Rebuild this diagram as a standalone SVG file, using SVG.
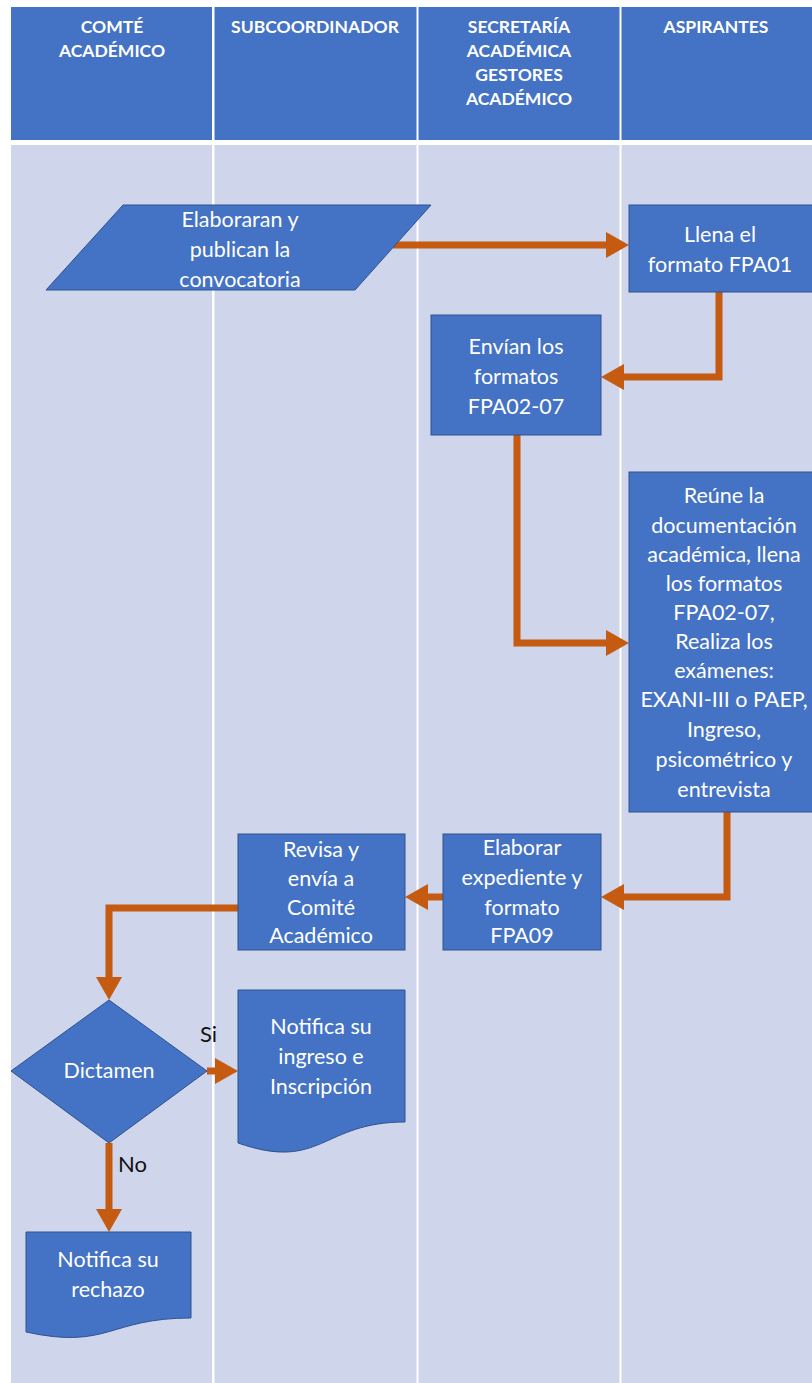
<svg xmlns="http://www.w3.org/2000/svg" width="812" height="1383" viewBox="0 0 812 1383">
<style>
.hdr{fill:#4472C4}
.lane{fill:#CFD5EA}
.node{fill:#4472C4;stroke:#2F528F;stroke-width:1}
.ht{font-family:Lato,"Liberation Sans",sans-serif;font-weight:bold;font-size:17.5px;fill:#fff;text-anchor:middle}
.t{font-family:Lato,"Liberation Sans",sans-serif;font-size:21.5px;fill:#fff;text-anchor:middle}
.lbl{font-family:Lato,"Liberation Sans",sans-serif;font-size:22px;fill:#111;}
.c{fill:none;stroke:#C55A11;stroke-width:7}
</style>
<defs>
<marker id="ah" markerUnits="userSpaceOnUse" markerWidth="24" markerHeight="26" refX="0" refY="13" orient="auto">
<path d="M0,0 L23,13 L0,26 Z" fill="#C55A11"/>
</marker>
</defs>
<rect width="812" height="1383" fill="#fff"/>
<g id="lanes">
<rect class="hdr" x="11" y="7" width="201" height="133"/>
<rect class="hdr" x="214.5" y="7" width="202" height="133"/>
<rect class="hdr" x="418.5" y="7" width="201" height="133"/>
<rect class="hdr" x="621.5" y="7" width="190.5" height="133"/>
<rect class="lane" x="11" y="145" width="201" height="1238"/>
<rect class="lane" x="214.5" y="145" width="202" height="1238"/>
<rect class="lane" x="418.5" y="145" width="201" height="1238"/>
<rect class="lane" x="621.5" y="145" width="190.5" height="1238"/>
<text class="ht" x="112" y="33">COMTÉ</text>
<text class="ht" x="112" y="57">ACADÉMICO</text>
<text class="ht" x="315" y="33">SUBCOORDINADOR</text>
<text class="ht" x="519" y="33">SECRETARÍA</text>
<text class="ht" x="519" y="57">ACADÉMICA</text>
<text class="ht" x="519" y="81">GESTORES</text>
<text class="ht" x="519" y="105">ACADÉMICO</text>
<text class="ht" x="716" y="33">ASPIRANTES</text>
</g>
<g id="connectors">
<path class="c" d="M393,245 H606" marker-end="url(#ah)"/>
<path class="c" d="M719,292 V377 H624" marker-end="url(#ah)"/>
<path class="c" d="M517,435 V643 H606" marker-end="url(#ah)"/>
<path class="c" d="M727,812 V897 H624" marker-end="url(#ah)"/>
<path class="c" d="M443,897 H428" marker-end="url(#ah)"/>
<path class="c" d="M238,908 H109 V977" marker-end="url(#ah)"/>
<path class="c" d="M207,1071 H215" marker-end="url(#ah)"/>
<path class="c" d="M109,1143 V1209" marker-end="url(#ah)"/>
<text class="lbl" x="200" y="1042">Si</text>
<text class="lbl" x="118" y="1172">No</text>
</g>
<g id="n1">
<polygon class="node" points="123,205 431,205 355,290 46,290"/>
<text class="t" x="240" y="227">Elaboraran y</text>
<text class="t" x="240" y="257">publican la</text>
<text class="t" x="240" y="287">convocatoria</text>
</g>
<g id="n2">
<rect class="node" x="629" y="205" width="190" height="87"/>
<text class="t" x="720" y="242">Llena el</text>
<text class="t" x="720" y="272">formato FPA01</text>
</g>
<g id="n3">
<rect class="node" x="431" y="315" width="170" height="120"/>
<text class="t" x="516" y="354">Envían los</text>
<text class="t" x="516" y="384">formatos</text>
<text class="t" x="516" y="414">FPA02-07</text>
</g>
<g id="n4">
<rect class="node" x="629" y="472" width="190" height="340"/>
<text class="t" x="724" y="503">Reúne la</text>
<text class="t" x="724" y="533">documentación</text>
<text class="t" x="724" y="562">académica, llena</text>
<text class="t" x="724" y="591">los formatos</text>
<text class="t" x="724" y="620">FPA02-07,</text>
<text class="t" x="724" y="649">Realiza los</text>
<text class="t" x="724" y="678">exámenes:</text>
<text class="t" x="724" y="707">EXANI-III o PAEP,</text>
<text class="t" x="724" y="737">Ingreso,</text>
<text class="t" x="724" y="767">psicométrico y</text>
<text class="t" x="724" y="797">entrevista</text>
</g>
<g id="n5">
<rect class="node" x="443" y="834" width="158" height="116"/>
<text class="t" x="522" y="855">Elaborar</text>
<text class="t" x="522" y="885">expediente y</text>
<text class="t" x="522" y="915">formato</text>
<text class="t" x="522" y="943">FPA09</text>
</g>
<g id="n6">
<rect class="node" x="238" y="834" width="167" height="116"/>
<text class="t" x="321" y="857">Revisa y</text>
<text class="t" x="321" y="886">envía a</text>
<text class="t" x="321" y="915">Comité</text>
<text class="t" x="321" y="943">Académico</text>
</g>
<g id="n7">
<polygon class="node" points="109,1000 207,1071 109,1143 11,1071"/>
<text class="t" x="109" y="1078">Dictamen</text>
</g>
<g id="n8">
<path class="node" d="M238,990 H405 V1122 C321.5,1122 321.5,1172 238,1143 Z"/>
<text class="t" x="321" y="1034">Notifica su</text>
<text class="t" x="321" y="1064">ingreso e</text>
<text class="t" x="321" y="1094">Inscripción</text>
</g>
<g id="n9">
<path class="node" d="M26,1232 H191 V1318 C108.5,1318 108.5,1350 26,1332 Z"/>
<text class="t" x="108" y="1267">Notifica su</text>
<text class="t" x="108" y="1297">rechazo</text>
</g>
</svg>
